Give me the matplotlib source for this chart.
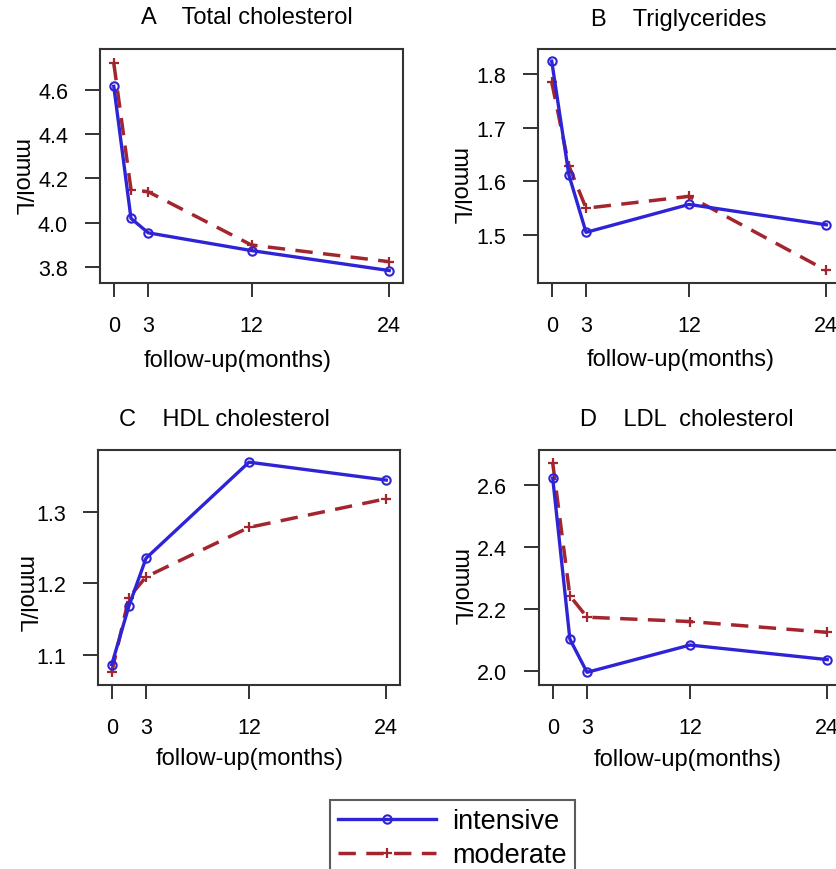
import numpy as np
import matplotlib
matplotlib.use("Agg")
import matplotlib.pyplot as plt
from matplotlib.lines import Line2D

plt.rcParams['font.family'] = ['Liberation Sans', 'DejaVu Sans']

W, H = 836, 870

# follow-up time points (months)
months = [0, 1.5, 3, 12, 24]
xticks = [0, 3, 12, 24]

# values (mmol/L)
tc_intensive = [4.615, 4.02, 3.955, 3.875, 3.785]
tc_moderate = [4.72, 4.15, 4.14, 3.90, 3.825]
tg_intensive = [1.824, 1.612, 1.505, 1.557, 1.519]
tg_moderate = [1.785, 1.629, 1.550, 1.572, 1.434]
hdl_intensive = [1.0865, 1.168, 1.235, 1.369, 1.344]
hdl_moderate = [1.076, 1.180, 1.209, 1.278, 1.318]
ldl_intensive = [2.622, 2.102, 1.995, 2.083, 2.036]
ldl_moderate = [2.671, 2.242, 2.173, 2.159, 2.124]

titles = ["A    Total cholesterol", "B    Triglycerides",
          "C    HDL cholesterol", "D    LDL  cholesterol"]

blue = "#2f23d6"
red = "#a3262f"


def px(x, y):
    return x / W, 1 - y / H


fig = plt.figure(figsize=(W / 100, H / 100), dpi=100)

# pixel boxes: left, right, top, bottom
boxes = [(100, 403, 50, 284), (538, 840, 50, 284),
         (98, 400, 451, 686), (539, 841, 451, 686)]
ylims = [(3.729, 4.783), (1.4106, 1.8466), (1.058, 1.386), (1.954, 2.713)]
yticks = [[3.8, 4.0, 4.2, 4.4, 4.6], [1.5, 1.6, 1.7, 1.8],
          [1.1, 1.2, 1.3], [2.0, 2.2, 2.4, 2.6]]
series = [(tc_intensive, tc_moderate), (tg_intensive, tg_moderate),
          (hdl_intensive, hdl_moderate), (ldl_intensive, ldl_moderate)]
title_pos = [(247, 18), (679, 20), (224, 420), (687, 420)]
xlab_pos = [(0.455, -0.33), (0.473, -0.325), (0.503, -0.31), (0.493, -0.315)]
ylab_pos = [(-0.264, 0.453), (-0.262, 0.415), (-0.245, 0.39), (-0.265, 0.42)]

for i, (l, r, t, b) in enumerate(boxes):
    ax = fig.add_axes([l / W, 1 - b / H, (r - l) / W, (b - t) / H])
    inten, mod = series[i]
    ax.plot(months, mod, color=red, lw=2.5, ls=(0, (5, 3)),
            marker='+', ms=7, mew=1.6)
    ax.plot(months, inten, color=blue, lw=2.4, marker='o', ms=6,
            mfc='none', mew=1.5)
    ax.set_xlim(-1.2, 25.2)
    ax.set_ylim(*ylims[i])
    ax.set_xticks(xticks)
    ax.set_xticklabels([str(v) for v in xticks])
    ax.set_yticks(yticks[i])
    ax.set_yticklabels(["%.1f" % v for v in yticks[i]])
    ax.tick_params(axis='x', length=10, width=1.3, pad=13, labelsize=15.5,
                   color='#222222')
    ax.tick_params(axis='y', length=11, width=1.3, pad=12, labelsize=15.5,
                   color='#222222')
    for s in ax.spines.values():
        s.set_linewidth(1.5)
        s.set_color('#333333')
    ax.set_xlabel("follow-up(months)", fontsize=17, va='center')
    ax.xaxis.set_label_coords(*xlab_pos[i])
    ax.set_ylabel("mmol/L", fontsize=17, rotation=270, va='center')
    ax.yaxis.set_label_coords(*ylab_pos[i])
    fx, fy = px(*title_pos[i])
    fig.text(fx, fy, titles[i], fontsize=17, ha='center', va='center')

handles = [Line2D([], [], color=blue, lw=2.4, marker='o', ms=6, mfc='none', mew=1.5),
           Line2D([], [], color=red, lw=2.5, ls=(0, (5, 3)), marker='+', ms=7, mew=1.6)]
lx, ly = px(330, 801)
leg = fig.legend(handles, ["intensive", "moderate"], loc='upper left',
                 bbox_to_anchor=(lx, ly), fontsize=19.5, frameon=True,
                 fancybox=False, handlelength=3.6, handletextpad=0.6,
                 labelspacing=0.3, borderpad=0.3, borderaxespad=0)
leg.get_frame().set_edgecolor('#333333')
leg.get_frame().set_linewidth(1.5)

fig.savefig("out.png", dpi=100)
